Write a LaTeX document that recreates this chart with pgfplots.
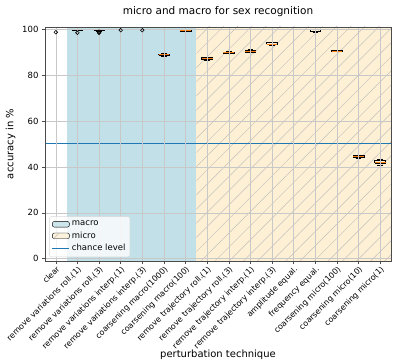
\documentclass[border=0pt]{standalone}
\usepackage{fontspec}
\setmainfont{DejaVu Sans}
\usepackage{pgfplots}
\pgfplotsset{compat=1.18}
\usetikzlibrary{patterns.meta}

\definecolor{macrobg}{RGB}{193,224,232}
\definecolor{microbg}{RGB}{253,240,213}
\definecolor{hatchgray}{RGB}{195,192,188}
\definecolor{mplblue}{RGB}{31,119,180}
\definecolor{mplorange}{RGB}{255,127,14}
\definecolor{gridgray}{RGB}{200,200,200}

\begin{document}
\begin{tikzpicture}
\begin{axis}[
    name=ax,
    scale only axis, width=346pt, height=234pt,
    xmin=0.5, xmax=16.5, ymin=-1, ymax=101,
    xtick={1,...,16},
    xticklabels={clear, remove variations roll.(1), remove variations roll.(3),
        remove variations interp.(1), remove variations interp.(3),
        coarsening macro(1000), coarsening macro(100),
        remove trajectory roll.(1), remove trajectory roll.(3),
        remove trajectory interp.(1), remove trajectory interp.(3),
        amplitude equal., frequency equal., coarsening micro(100),
        coarsening micro(10), coarsening micro(1)},
    ytick={0,20,...,100},
    grid=major, grid style={gridgray, line width=0.6pt},
    axis on top,
    axis line style={black!70, line width=0.6pt},
    tick style={black!70, line width=0.6pt},
    tick align=outside, major tick length=3pt, tick pos=left,
    /pgf/number format/assume math mode=true,
    yticklabel style={font=\fontsize{8.5}{10}\selectfont},
    xticklabel style={rotate=45, anchor=north east, inner sep=1pt,
        font=\fontsize{8}{9}\selectfont},
    xlabel={perturbation technique},
    ylabel={accuracy in \%},
    label style={font=\fontsize{10}{12}\selectfont},
    xlabel style={yshift=6pt},
    title={micro and macro for sex recognition},
    title style={font=\fontsize{10.5}{12}\selectfont, yshift=1pt},
    legend style={at={(0.012,0.017)}, anchor=south west,
        font=\fontsize{8.5}{10}\selectfont, draw=black!15, rounded corners=2pt,
        fill=white, fill opacity=0.8, text opacity=1, inner sep=2.5pt,
        row sep=0.5pt},
    legend cell align=left,
]

% background spans
\addplot[fill=macrobg, draw=none, area legend]
    coordinates {(1.5,-1) (7.5,-1) (7.5,101) (1.5,101)} -- cycle;
\addlegendentry{macro}
\addplot[fill=microbg, draw=none, area legend,
    postaction={pattern={Lines[angle=45,distance=10pt,line width=0.5pt]},
        pattern color=hatchgray}]
    coordinates {(7.5,-1) (16.5,-1) (16.5,101) (7.5,101)} -- cycle;
\addlegendentry{micro}

% boxes, whiskers and caps
\addplot[forget plot, black, line width=0.7pt, unbounded coords=jump] coordinates {
(0.75,100)(1.25,100)(nan,nan)
(1.75,99.5)(2.25,99.5)(2.25,100)(1.75,100)(1.75,99.5)(nan,nan)(2,99.5)(2,99.4)(nan,nan)(1.875,99.4)(2.125,99.4)(nan,nan)
(2.75,99.5)(3.25,99.5)(3.25,100)(2.75,100)(2.75,99.5)(nan,nan)(3,99.5)(3,99.3)(nan,nan)(2.875,99.3)(3.125,99.3)(nan,nan)
(3.75,99.9)(4.25,99.9)(4.25,100)(3.75,100)(3.75,99.9)(nan,nan)
(4.75,99.9)(5.25,99.9)(5.25,100)(4.75,100)(4.75,99.9)(nan,nan)
(5.75,88.6)(6.25,88.6)(6.25,89.2)(5.75,89.2)(5.75,88.6)(nan,nan)(6,88.6)(6,88.3)(nan,nan)(5.875,88.3)(6.125,88.3)(nan,nan)(6,89.2)(6,89.6)(nan,nan)(5.875,89.6)(6.125,89.6)(nan,nan)
(6.75,99.25)(7.25,99.25)(7.25,99.35)(6.75,99.35)(6.75,99.25)(nan,nan)
(7.75,86.8)(8.25,86.8)(8.25,87.7)(7.75,87.7)(7.75,86.8)(nan,nan)(8,86.8)(8,86.6)(nan,nan)(7.875,86.6)(8.125,86.6)(nan,nan)(8,87.7)(8,87.9)(nan,nan)(7.875,87.9)(8.125,87.9)(nan,nan)
(8.75,89.6)(9.25,89.6)(9.25,90.1)(8.75,90.1)(8.75,89.6)(nan,nan)(9,89.6)(9,89.4)(nan,nan)(8.875,89.4)(9.125,89.4)(nan,nan)(9,90.1)(9,90.3)(nan,nan)(8.875,90.3)(9.125,90.3)(nan,nan)
(9.75,90.1)(10.25,90.1)(10.25,90.8)(9.75,90.8)(9.75,90.1)(nan,nan)(10,90.1)(10,89.9)(nan,nan)(9.875,89.9)(10.125,89.9)(nan,nan)(10,90.8)(10,91.1)(nan,nan)(9.875,91.1)(10.125,91.1)(nan,nan)
(10.75,93.4)(11.25,93.4)(11.25,94.1)(10.75,94.1)(10.75,93.4)(nan,nan)(11,93.4)(11,92.8)(nan,nan)(10.875,92.8)(11.125,92.8)(nan,nan)(11,94.1)(11,94.3)(nan,nan)(10.875,94.3)(11.125,94.3)(nan,nan)
(11.75,100)(12.25,100)(nan,nan)
(12.75,98.9)(13.25,98.9)(13.25,99.9)(12.75,99.9)(12.75,98.9)(nan,nan)(13,98.9)(13,98.8)(nan,nan)(12.875,98.8)(13.125,98.8)(nan,nan)(13,99.9)(13,100)(nan,nan)(12.875,100)(13.125,100)(nan,nan)
(13.75,90.4)(14.25,90.4)(14.25,90.7)(13.75,90.7)(13.75,90.4)(nan,nan)(14,90.4)(14,90.3)(nan,nan)(13.875,90.3)(14.125,90.3)(nan,nan)(14,90.7)(14,90.8)(nan,nan)(13.875,90.8)(14.125,90.8)(nan,nan)
(14.75,44.0)(15.25,44.0)(15.25,44.9)(14.75,44.9)(14.75,44.0)(nan,nan)(15,44.0)(15,43.8)(nan,nan)(14.875,43.8)(15.125,43.8)(nan,nan)(15,44.9)(15,45.1)(nan,nan)(14.875,45.1)(15.125,45.1)(nan,nan)
(15.75,41.6)(16.25,41.6)(16.25,42.9)(15.75,42.9)(15.75,41.6)(nan,nan)(16,41.6)(16,40.5)(nan,nan)(15.875,40.5)(16.125,40.5)(nan,nan)(16,42.9)(16,43.1)(nan,nan)(15.875,43.1)(16.125,43.1)
};

% medians
\addplot[forget plot, mplorange, line width=0.9pt, unbounded coords=jump] coordinates {
(0.75,100)(1.25,100)(nan,nan)
(1.75,100)(2.25,100)(nan,nan)
(2.75,100)(3.25,100)(nan,nan)
(3.75,100)(4.25,100)(nan,nan)
(4.75,100)(5.25,100)(nan,nan)
(5.75,88.9)(6.25,88.9)(nan,nan)
(6.75,99.3)(7.25,99.3)(nan,nan)
(7.75,87.1)(8.25,87.1)(nan,nan)
(8.75,89.9)(9.25,89.9)(nan,nan)
(9.75,90.4)(10.25,90.4)(nan,nan)
(10.75,93.6)(11.25,93.6)(nan,nan)
(11.75,100)(12.25,100)(nan,nan)
(12.75,99.9)(13.25,99.9)(nan,nan)
(13.75,90.5)(14.25,90.5)(nan,nan)
(14.75,44.4)(15.25,44.4)(nan,nan)
(15.75,42.0)(16.25,42.0)
};

% outliers
\addplot[forget plot, only marks, mark=o, mark size=1.8pt, black, line width=0.6pt]
    coordinates {(1,98.7) (2,98.5) (3,98.4) (3,98.7) (3,99.0) (4,99.6) (5,99.6)};

% chance level, drawn last
\addplot[draw={rgb,255:red,31;green,119;blue,180}, line width=1pt, mark=none]
    coordinates {(0.5,50) (16.5,50)};
\addlegendentry{chance level}

\end{axis}
\path ([xshift=-45pt,yshift=-102pt]ax.south west) rectangle ([xshift=4pt,yshift=27pt]ax.north east);
\end{tikzpicture}
\end{document}
